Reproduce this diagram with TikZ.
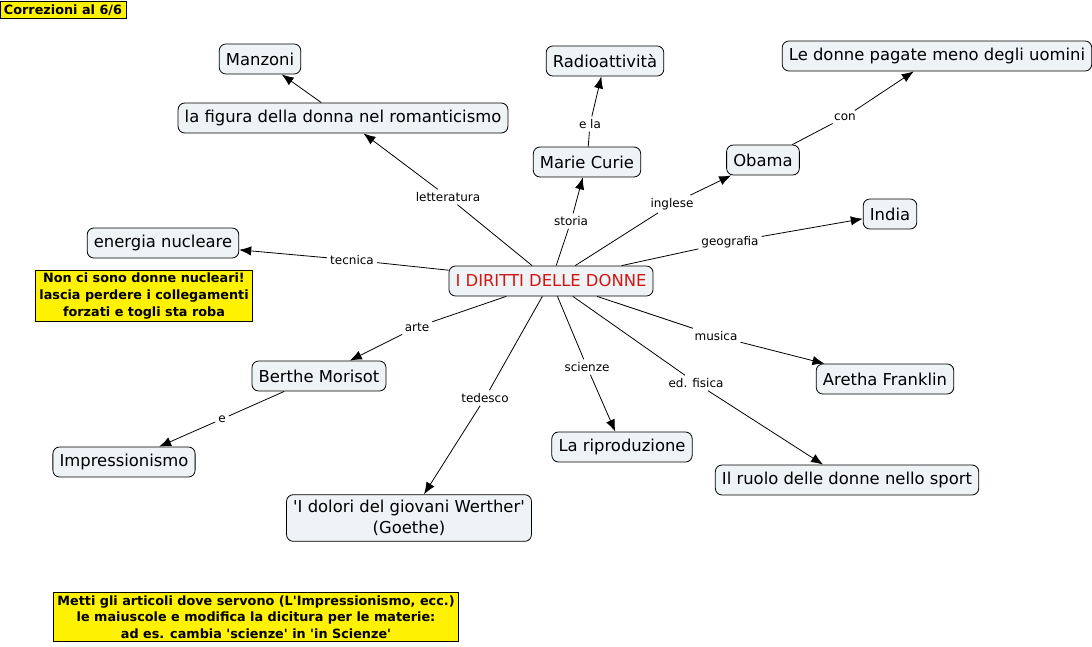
\documentclass[tikz,border=0pt]{standalone}
\usepackage{fontspec}
\setmainfont{DejaVu Sans}
\usepackage{xcolor}
\usetikzlibrary{arrows.meta}

\definecolor{conceptfill}{RGB}{238,243,245}
\definecolor{titlered}{RGB}{210,20,20}

\begin{document}
\begin{tikzpicture}[x=0.75pt, y=-0.75pt, line width=0.6pt,
    concept/.style={draw, rounded corners=5pt, fill=conceptfill, font=\fontsize{12.3}{16}\selectfont, inner xsep=5pt, minimum height=22.5pt, align=center},
    linklabel/.style={font=\fontsize{9}{10}\selectfont, inner sep=2pt},
    note/.style={draw, fill=yellow, font=\bfseries\fontsize{9.6}{12.5}\selectfont, inner xsep=3pt, inner ysep=2pt, align=center},
    link/.style={-{Latex[length=9pt,width=7pt]}}]
    \useasboundingbox (0,0) rectangle (1092,646);

    % Notes
    \node[note] (corr) at (63,10) {Correzioni al 6/6};
    \node[note] (nucl) at (144,296) {Non ci sono donne nucleari!\\lascia perdere i collegamenti\\forzati e togli sta roba};
    \node[note] (art) at (256,617) {Metti gli articoli dove servono (L\textquotesingle Impressionismo, ecc.)\\le maiuscole e modifica la dicitura per le materie:\\ad es. cambia \textquotesingle scienze\textquotesingle{} in \textquotesingle in Scienze\textquotesingle};

    % Concepts
    \node[concept, text=titlered] (dd) at (551,281) {I DIRITTI DELLE DONNE};
    \node[concept] (manz) at (260,59) {Manzoni};
    \node[concept] (fig) at (343,118) {la figura della donna nel romanticismo};
    \node[concept] (radio) at (605,61) {Radioattività};
    \node[concept] (pag) at (937,56) {Le donne pagate meno degli uomini};
    \node[concept] (curie) at (587,162) {Marie Curie};
    \node[concept] (obama) at (763,160) {Obama};
    \node[concept] (india) at (890,214) {India};
    \node[concept] (nuc) at (163,243) {energia nucleare};
    \node[concept] (bert) at (319,376) {Berthe Morisot};
    \node[concept] (aret) at (885,379) {Aretha Franklin};
    \node[concept] (impr) at (124,462) {Impressionismo};
    \node[concept] (ripr) at (622,447) {La riproduzione};
    \node[concept] (sport) at (847,480) {Il ruolo delle donne nello sport};
    \node[concept, inner ysep=4pt] (wert) at (409,518) {\textquotesingle I dolori del giovani Werther\textquotesingle\\(Goethe)};

    % Link labels
    \node[linklabel] (lett) at (448,197) {letteratura};
    \node[linklabel] (stor) at (571,221) {storia};
    \node[linklabel] (ingl) at (672,204) {inglese};
    \node[linklabel] (geo) at (730,242) {geografia};
    \node[linklabel] (tecn) at (352,260) {tecnica};
    \node[linklabel] (arte) at (417,327) {arte};
    \node[linklabel] (ted) at (485,398) {tedesco};
    \node[linklabel] (sci) at (587,367) {scienze};
    \node[linklabel] (edf) at (696,383) {ed. fisica};
    \node[linklabel] (mus) at (716,336) {musica};
    \node[linklabel] (ela) at (590,124) {e la};
    \node[linklabel] (con) at (845,117) {con};
    \node[linklabel] (e) at (222,419) {e};

    % Links
    \draw (dd) -- (lett);  \draw[link] (lett) -- (fig);
    \draw (dd) -- (stor);  \draw[link] (stor) -- (curie);
    \draw (dd) -- (ingl);  \draw[link] (ingl) -- (obama);
    \draw (dd) -- (geo);   \draw[link] (geo) -- (india);
    \draw (dd) -- (tecn);  \draw[link] (tecn) -- (nuc);
    \draw (dd) -- (arte);  \draw[link] (arte) -- (bert);
    \draw (dd) -- (ted);   \draw[link] (ted) -- (wert);
    \draw (dd) -- (sci);   \draw[link] (sci) -- (ripr);
    \draw (dd) -- (edf);   \draw[link] (edf) -- (sport);
    \draw (dd) -- (mus);   \draw[link] (mus) -- (aret);
    \draw (curie) -- (ela); \draw[link] (ela) -- (radio);
    \draw (obama) -- (con); \draw[link] (con) -- (pag);
    \draw (bert) -- (e);    \draw[link] (e) -- (impr);
    \draw[link] (fig) -- (manz);
\end{tikzpicture}
\end{document}
